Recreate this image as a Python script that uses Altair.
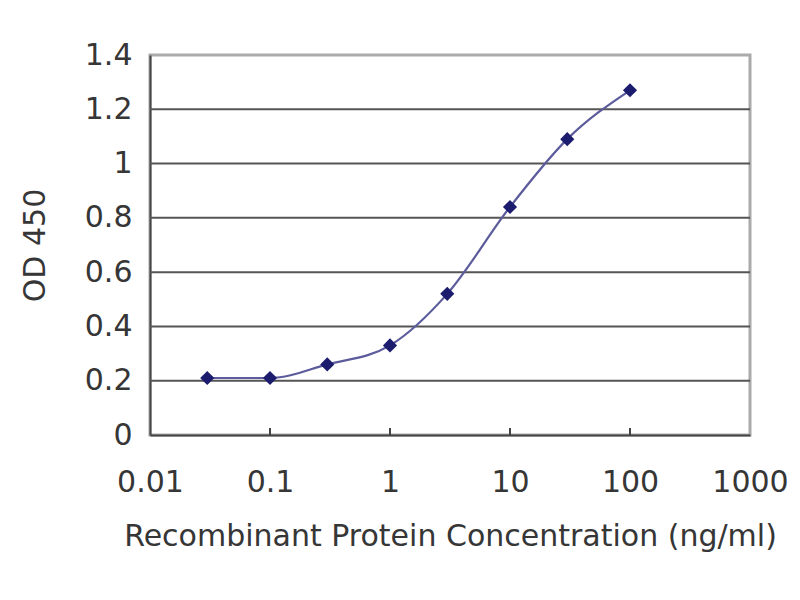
import altair as alt
import pandas as pd

# ELISA standard curve: OD 450 vs recombinant protein concentration
concentration = [0.03, 0.1, 0.3, 1, 3, 10, 30, 100]
od450 = [0.21, 0.21, 0.26, 0.33, 0.52, 0.84, 1.09, 1.27]

x_ticks = [0.01, 0.1, 1, 10, 100, 1000]
y_ticks = [0, 0.2, 0.4, 0.6, 0.8, 1, 1.2, 1.4]
grid_values = [0.2, 0.4, 0.6, 0.8, 1, 1.2]

FONT = "DejaVu Sans"
TEXT_COLOR = "#363636"

df = pd.DataFrame({"conc": concentration, "od": od450})
ticks_df = pd.DataFrame({"conc": x_ticks[1:-1]})

x_scale = alt.Scale(type="log", domain=[0.01, 1000])
y_scale = alt.Scale(domain=[0, 1.4])

grid = (
    alt.Chart(pd.DataFrame({"od": grid_values}))
    .mark_rule(color="#555555", strokeWidth=2)
    .encode(y=alt.Y("od:Q", scale=y_scale))
)

line = (
    alt.Chart(df)
    .mark_line(color="#5c5c9c", strokeWidth=2.2, interpolate="monotone")
    .encode(
        x=alt.X(
            "conc:Q",
            scale=x_scale,
            title="Recombinant Protein Concentration (ng/ml)",
            axis=alt.Axis(
                values=x_ticks,
                format="~g",
                grid=False,
                ticks=False,
                domainColor="#444444",
                domainWidth=2,
                labelPadding=32,
                labelFlush=False,
                labelOverlap=False,
                titlePadding=24,
            ),
        ),
        y=alt.Y(
            "od:Q",
            scale=y_scale,
            title="OD 450",
            axis=alt.Axis(
                values=y_ticks,
                format="~g",
                grid=False,
                ticks=False,
                domainColor="#444444",
                domainWidth=2,
                labelPadding=18,
                titlePadding=34,
            ),
        ),
    )
)

points = (
    alt.Chart(df)
    .mark_point(shape="diamond", filled=True, color="#1c1c6e", size=200, opacity=1)
    .encode(x=alt.X("conc:Q", scale=x_scale), y=alt.Y("od:Q", scale=y_scale))
)

# small inward tick marks on the x axis
x_tick_marks = (
    alt.Chart(ticks_df)
    .mark_rule(color="#444444", strokeWidth=2)
    .encode(x=alt.X("conc:Q", scale=x_scale), y=alt.value(380), y2=alt.value(373))
)

chart = (
    alt.layer(grid, line, x_tick_marks, points)
    .properties(
        width=600,
        height=380,
        autosize="none",
        padding={"left": 142, "top": 47, "right": 42, "bottom": 157},
    )
    .configure_view(stroke="#aaaaaa", strokeWidth=3)
    .configure_axis(
        labelFont=FONT,
        titleFont=FONT,
        labelFontSize=30,
        titleFontSize=30,
        labelColor=TEXT_COLOR,
        titleColor=TEXT_COLOR,
        titleFontWeight="normal",
    )
)

chart.save("out.html", embed_options={"renderer": "svg", "actions": False})
